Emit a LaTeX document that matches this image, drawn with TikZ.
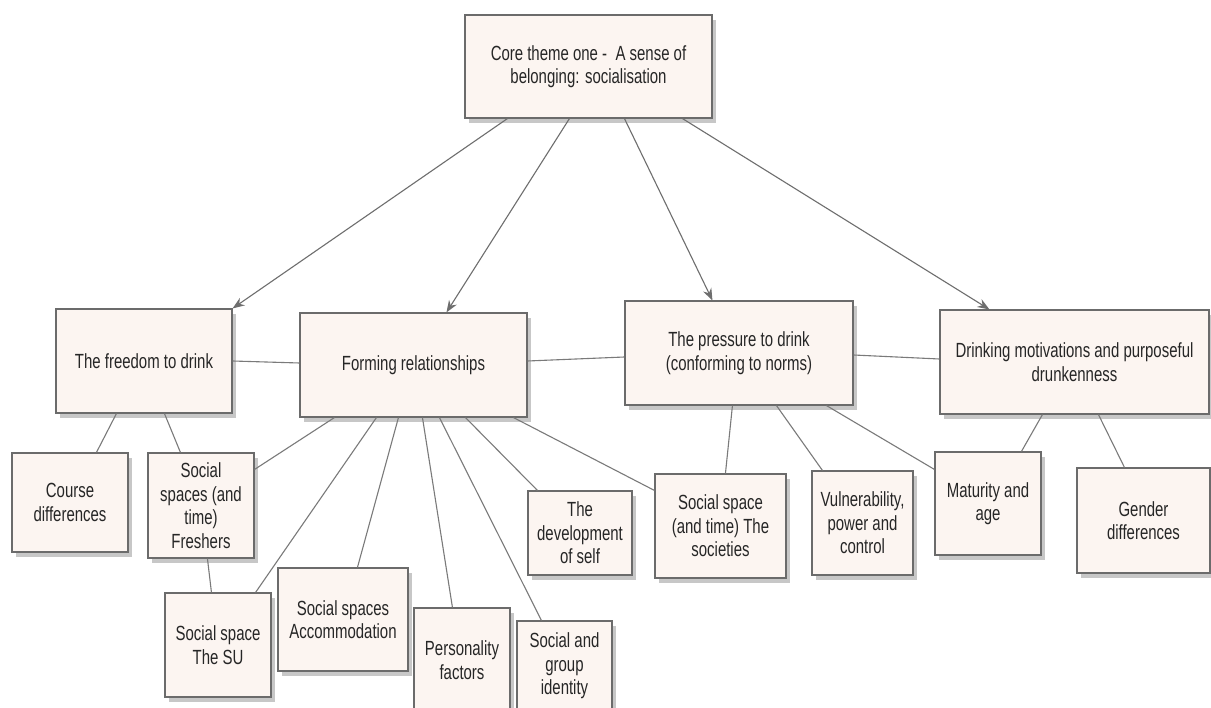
\documentclass[tikz,border=0pt]{standalone}
\usepackage{fontspec}
\setmainfont{Liberation Sans}[FakeStretch=0.73]
\usetikzlibrary{arrows.meta,shadows}
\definecolor{boxfill}{HTML}{FCF5F1}
\definecolor{boxline}{HTML}{6B6B6B}
\definecolor{conn}{HTML}{7A7A7A}
\definecolor{txt}{HTML}{262626}
\tikzset{
  box/.style={draw=boxline, line width=1.1pt, fill=boxfill, text=txt, align=center,
    inner sep=2pt, font=\fontsize{20.5}{23.5}\selectfont,
    drop shadow={shadow xshift=4pt, shadow yshift=-5pt, opacity=0.22, fill=black}},
  link/.style={draw=conn, line width=1.1pt},
  arr/.style={link, -{Stealth[length=12pt,width=9pt]}, draw=conn!90!black}
}
\begin{document}
\begin{tikzpicture}[x=1pt,y=-1pt]
\useasboundingbox (0,0) rectangle (1211,708);
\fill[white] (0,0) rectangle (1211,708);
% nodes
\node[box, minimum width=247pt, minimum height=103pt] (core) at (588.5,66.5) {Core theme one -\ \ A sense of\\belonging: socialisation};
\node[box, minimum width=176pt, minimum height=104pt] (freedom) at (144,361) {The freedom to drink};
\node[box, minimum width=227pt, minimum height=104pt] (forming) at (413.5,365) {Forming relationships};
\node[box, minimum width=228pt, minimum height=104pt] (pressure) at (739,353) {The pressure to drink\\(conforming to norms)};
\node[box, minimum width=269pt, minimum height=104pt] (drinking) at (1074.5,362) {Drinking motivations and purposeful\\drunkenness};
\node[box, minimum width=116pt, minimum height=99pt] (course) at (70,502.5) {Course\\differences};
\node[box, minimum width=106pt, minimum height=105pt] (freshers) at (201,505.5) {Social\\spaces (and\\time)\\Freshers};
\node[box, minimum width=106pt, minimum height=104pt] (su) at (218,645) {Social space\\The SU};
\node[box, minimum width=130pt, minimum height=103pt] (accom) at (343,619.5) {Social spaces\\Accommodation};
\node[box, minimum width=96pt, minimum height=104pt] (person) at (462,660) {Personality\\factors};
\node[box, minimum width=95pt, minimum height=90pt] (sgroup) at (564.5,666) {Social and\\group\\identity};
\node[box, minimum width=104pt, minimum height=84pt] (develop) at (580,533) {The\\development\\of self};
\node[box, minimum width=131pt, minimum height=104pt] (societies) at (720.5,526) {Social space\\(and time) The\\societies};
\node[box, minimum width=101pt, minimum height=104pt] (vuln) at (862.5,523) {Vulnerability,\\power and\\control};
\node[box, minimum width=106pt, minimum height=103pt] (maturity) at (988,503.5) {Maturity and\\age};
\node[box, minimum width=133pt, minimum height=105pt] (gender) at (1143.5,520.5) {Gender\\differences};
% arrows from core
\draw[arr] ([xshift=43pt]core.south west) -- (freedom.north east);
\draw[arr] ([xshift=105pt]core.south west) -- ([xshift=147pt]forming.north west);
\draw[arr] ([xshift=160pt]core.south west) -- ([xshift=88pt]pressure.north west);
\draw[arr] ([xshift=218pt]core.south west) -- ([xshift=50pt]drinking.north west);
% horizontal links
\draw[link] (freedom.east) -- ([yshift=2pt]forming.west);
\draw[link] ([yshift=4pt]forming.east) -- ([yshift=-4pt]pressure.west);
\draw[link] ([yshift=-2pt]pressure.east) -- ([yshift=3pt]drinking.west);
% freedom children
\draw[link] ([xshift=61pt]freedom.south west) -- ([xshift=85pt]course.north west);
\draw[link] ([xshift=109pt]freedom.south west) -- ([xshift=33pt]freshers.north west);
\draw[link] ([xshift=60pt]freshers.south west) -- ([xshift=47pt]su.north west);
% forming children
\draw[link] ([xshift=35pt]forming.south west) -- ([yshift=-17pt]freshers.north east);
\draw[link] ([xshift=77pt]forming.south west) -- ([xshift=-16pt]su.north east);
\draw[link] ([xshift=99pt]forming.south west) -- ([xshift=80pt]accom.north west);
\draw[link] ([xshift=123pt]forming.south west) -- ([xshift=39pt]person.north west);
\draw[link] ([xshift=140pt]forming.south west) -- ([xshift=25pt]sgroup.north west);
\draw[link] ([xshift=166pt]forming.south west) -- ([xshift=10pt]develop.north west);
\draw[link] ([xshift=214pt]forming.south west) -- ([yshift=-17pt]societies.north west);
% pressure children
\draw[link] ([xshift=108pt]pressure.south west) -- ([xshift=71pt]societies.north west);
\draw[link] ([xshift=152pt]pressure.south west) -- ([xshift=11pt]vuln.north west);
\draw[link] ([xshift=202pt]pressure.south west) -- ([yshift=-18pt]maturity.north west);
% drinking children
\draw[link] ([xshift=103pt]drinking.south west) -- ([xshift=87pt]maturity.north west);
\draw[link] ([xshift=159pt]drinking.south west) -- ([xshift=48pt]gender.north west);
\end{tikzpicture}
\end{document}
